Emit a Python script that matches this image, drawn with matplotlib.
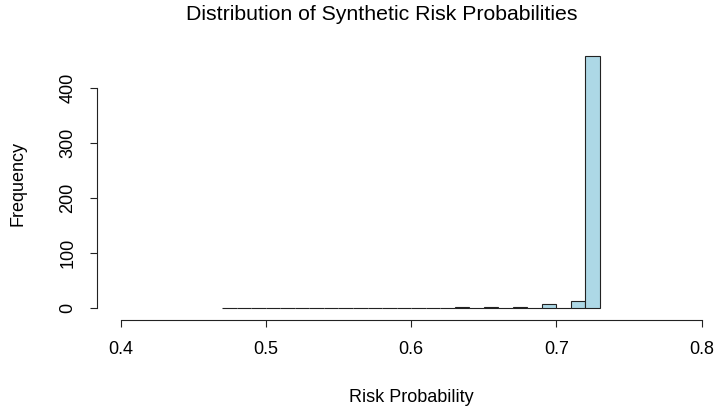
import matplotlib
matplotlib.use("Agg")
import matplotlib.pyplot as plt

plt.rcParams['font.family'] = ['Liberation Sans', 'DejaVu Sans']

# histogram bins (left edges, width 0.01) and counts
bin_left = [0.47, 0.48, 0.49, 0.50, 0.51, 0.52, 0.53, 0.54, 0.55, 0.56,
            0.57, 0.58, 0.59, 0.60, 0.61, 0.62, 0.63, 0.64, 0.65, 0.66,
            0.67, 0.68, 0.69, 0.70, 0.71, 0.72]
counts = [1, 0, 0, 0, 0, 1, 1, 0, 1, 0,
          0, 0, 0, 0, 0, 1, 3, 1, 3, 0,
          2, 0, 7, 0, 14, 457]
bin_width = 0.01
x_ticks = [0.4, 0.5, 0.6, 0.7, 0.8]
y_ticks = [0, 100, 200, 300, 400]

W, H = 715, 413
fig = plt.figure(figsize=(W / 100, H / 100), dpi=100)
ax = fig.add_axes([97 / W, (H - 320) / H, 618 / W, 274 / H])

ax.bar(bin_left, counts, width=bin_width, align='edge',
       color='#ADD8E6', edgecolor='#222222', linewidth=0.8)

ax.set_xlim(0.3838, 0.8092)
ax.set_ylim(-21.2, 475.5)

for s in ['top', 'right']:
    ax.spines[s].set_visible(False)
ax.spines['left'].set_bounds(0, 400)
ax.spines['bottom'].set_bounds(0.4, 0.8)
for s in ['left', 'bottom']:
    ax.spines[s].set_linewidth(0.8)
    ax.spines[s].set_color('#222222')

ax.set_xticks(x_ticks)
ax.set_xticklabels([str(v) for v in x_ticks])
ax.set_yticks(y_ticks)
ax.set_yticklabels([str(v) for v in y_ticks], rotation=90, va='center')
ax.tick_params(length=5, width=0.8, color='#222222', labelsize=13,
               pad=10, labelcolor='black')

ax.set_xlabel('Risk Probability', fontsize=13)
ax.set_ylabel('Frequency', fontsize=13)
ax.xaxis.set_label_coords((411 - 97) / 618, -(398 - 320) / 274)
ax.yaxis.set_label_coords(-(97 - 18) / 618, 0.5)
ax.xaxis.label.set_va('center')
ax.yaxis.label.set_va('center')

fig.text(382 / W, 1 - 14 / H,
         'Distribution of Synthetic Risk Probabilities',
         ha='center', va='center', fontsize=15.3)

fig.savefig('out.png', dpi=100)
